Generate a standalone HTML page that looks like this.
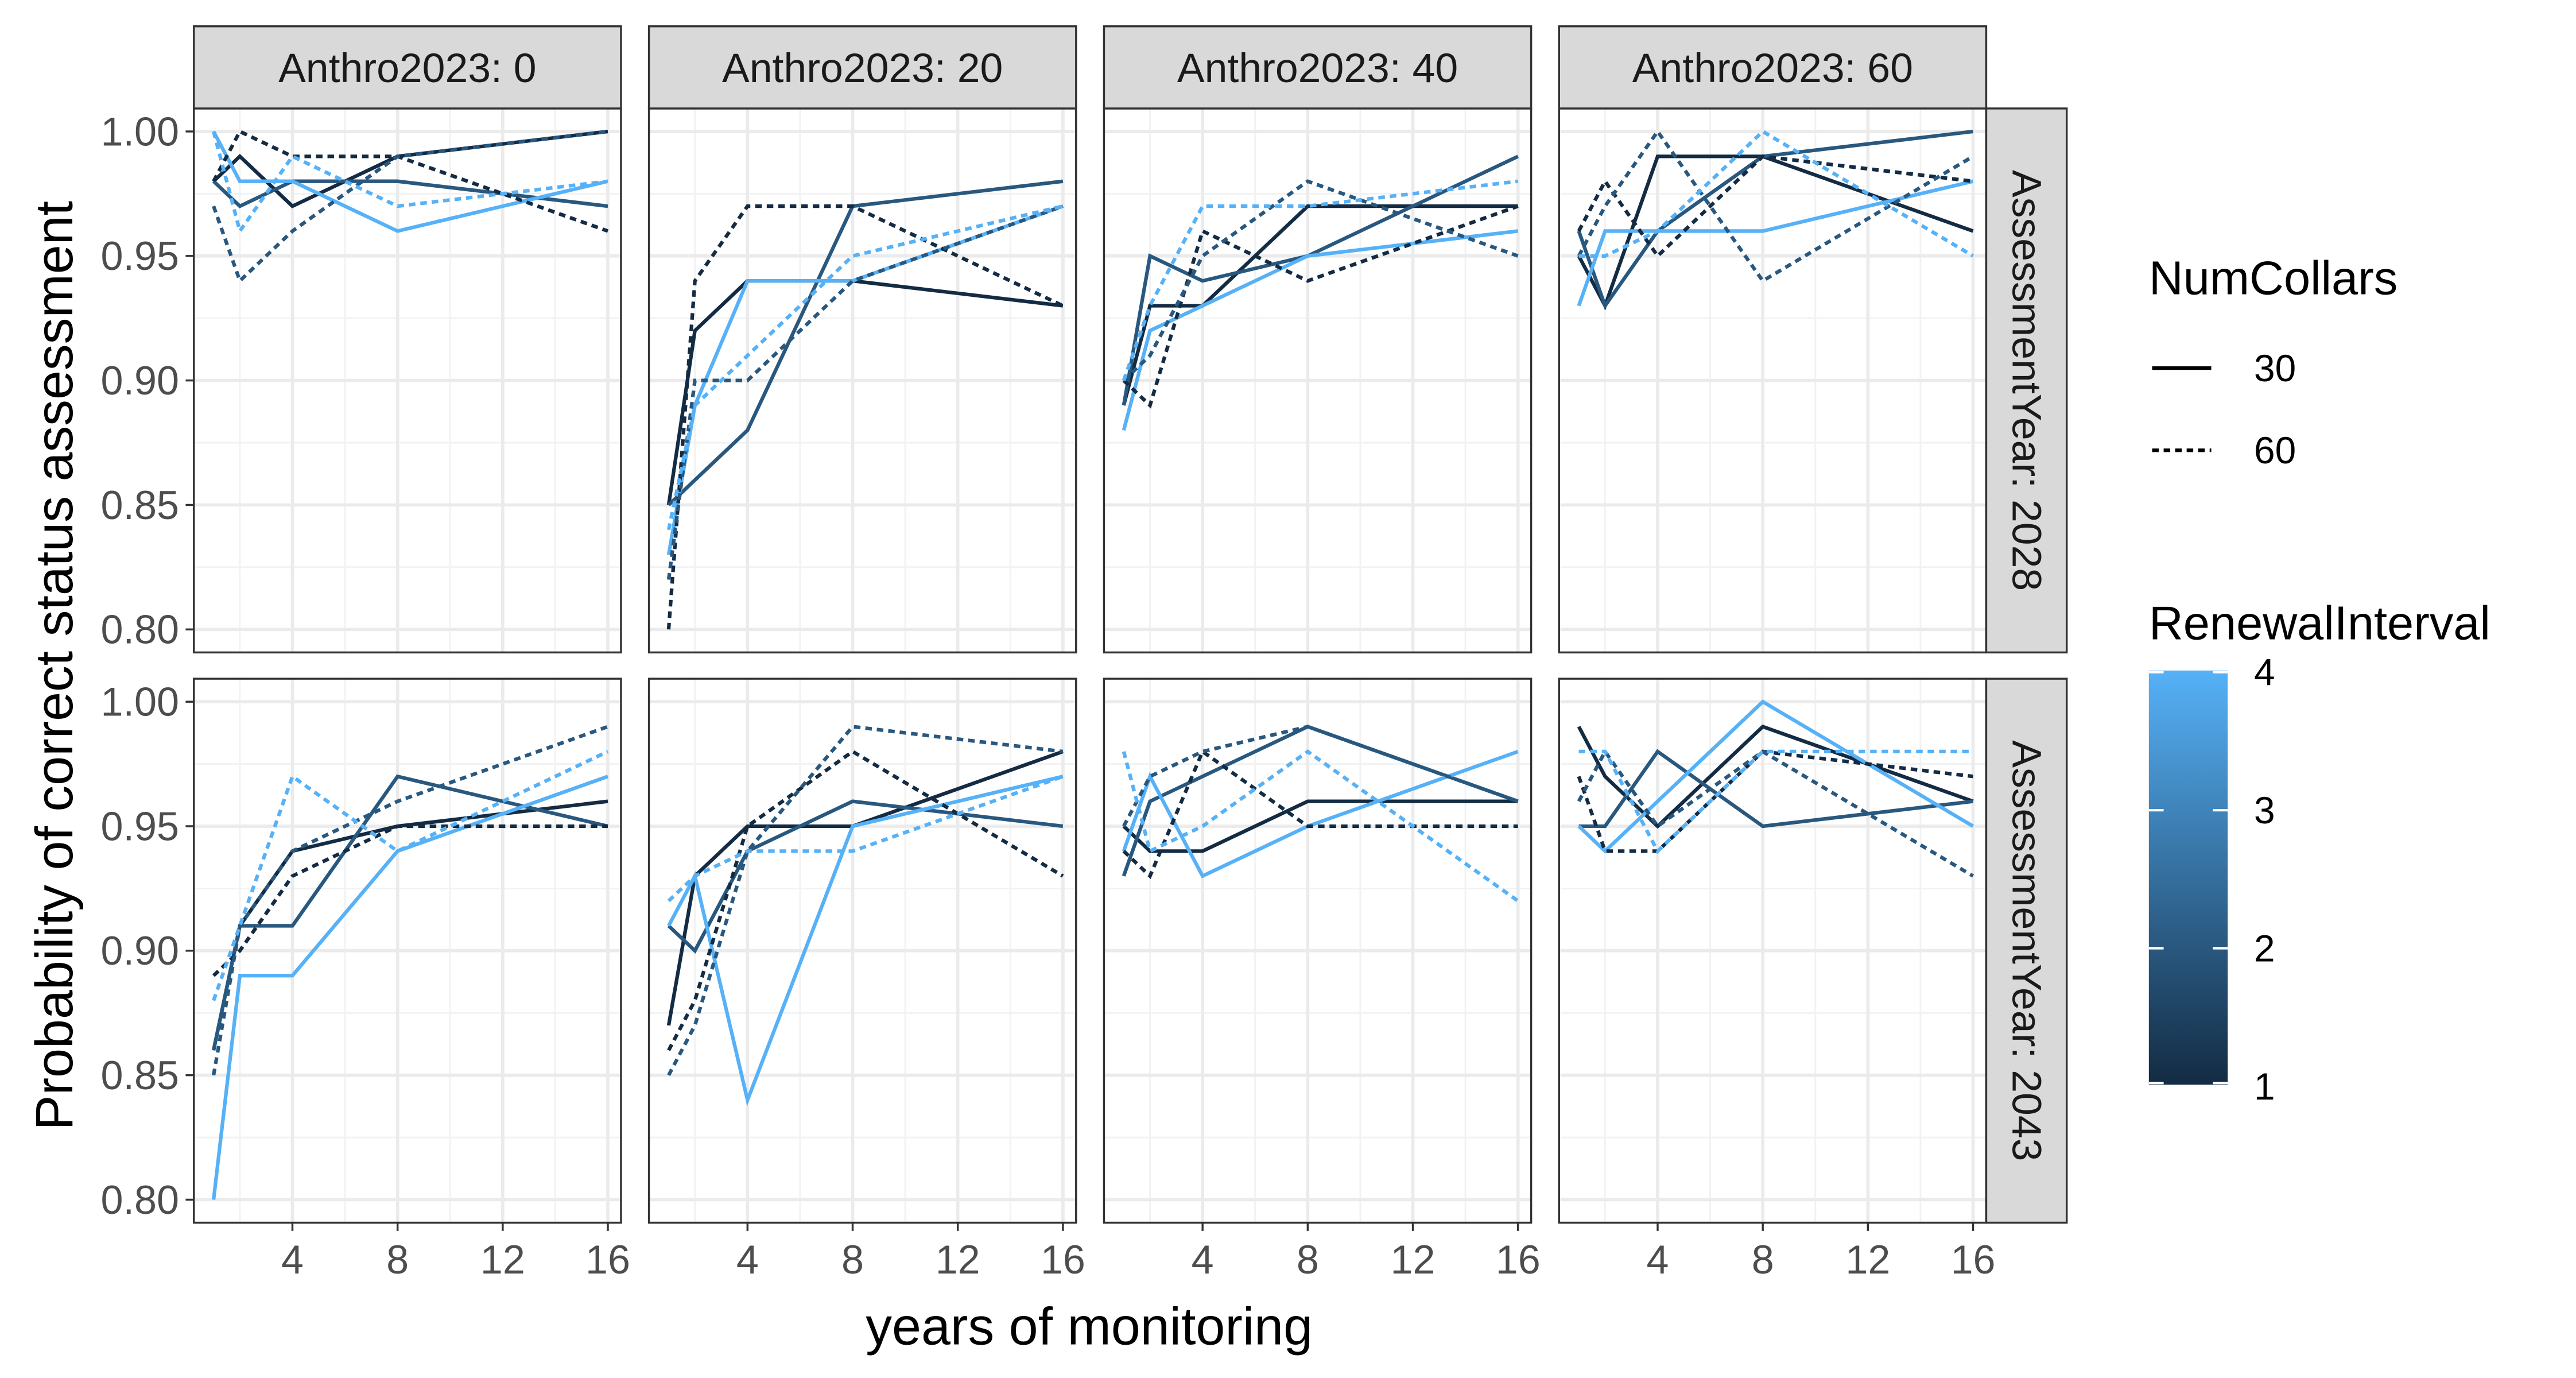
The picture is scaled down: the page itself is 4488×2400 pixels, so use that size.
<!DOCTYPE html>
<html><head><meta charset="utf-8"><style>
html,body{margin:0;padding:0;background:#fff}
svg{display:block;font-family:"Liberation Sans",sans-serif}
</style></head><body>
<svg id="chart" width="4488" height="2400" viewBox="0 0 1568 838.5" xmlns="http://www.w3.org/2000/svg">
<defs>
<linearGradient id="cbar" x1="0" y1="1" x2="0" y2="0">
<stop offset="0" stop-color="#132B43"/><stop offset="1" stop-color="#56B1F7"/>
</linearGradient>
</defs>
<rect width="1568" height="838.5" fill="#fff"/>
<g id="panels"></g>
<text transform="translate(44,405) rotate(-90)" text-anchor="middle" font-size="32" fill="#000">Probability of correct status assessment</text>
<text x="663" y="818" text-anchor="middle" font-size="32" fill="#000">years of monitoring</text>
<g>
<text x="1308" y="179" font-size="29">NumCollars</text>
<line x1="1310" y1="224" x2="1346" y2="224" stroke="#000" stroke-width="2.2"/>
<text x="1372" y="232" font-size="23">30</text>
<line x1="1310" y1="274" x2="1346" y2="274" stroke="#000" stroke-width="2.2" stroke-dasharray="4,3"/>
<text x="1372" y="282" font-size="23">60</text>
</g>
<g>
<text x="1308" y="389" font-size="29">RenewalInterval</text>
<rect x="1308" y="408" width="48" height="252" fill="url(#cbar)"/>
<text x="1372" y="417" font-size="23">4</text>
<text x="1372" y="501" font-size="23">3</text>
<text x="1372" y="585" font-size="23">2</text>
<text x="1372" y="669" font-size="23">1</text>
<g stroke="#fff" stroke-width="1.5">
<line x1="1308" y1="409" x2="1317" y2="409"/><line x1="1347" y1="409" x2="1356" y2="409"/>
<line x1="1308" y1="493" x2="1317" y2="493"/><line x1="1347" y1="493" x2="1356" y2="493"/>
<line x1="1308" y1="577" x2="1317" y2="577"/><line x1="1347" y1="577" x2="1356" y2="577"/>
<line x1="1308" y1="659" x2="1317" y2="659"/><line x1="1347" y1="659" x2="1356" y2="659"/>
</g>
</g>
</svg>
<script>
const xValues = [1, 2, 4, 8, 16];
const anthroLevels = [0, 20, 40, 60];
const assessYears = [2028, 2043];
const xTicks = [4, 8, 12, 16];
const yTicks = [0.80, 0.85, 0.90, 0.95, 1.00];
const intervals = [1, 2, 4, 1, 2, 4];
const collars = [30, 30, 30, 60, 60, 60];
// series values per panel [row][col]: order dark/mid/light solid, dark/mid/light dashed
const r1c1 = [[0.98,0.99,0.97,0.99,1.00],[0.98,0.97,0.98,0.98,0.97],[1.00,0.98,0.98,0.96,0.98],[0.98,1.00,0.99,0.99,0.96],[0.97,0.94,0.96,0.99,1.00],[1.00,0.96,0.99,0.97,0.98]];
const r1c2 = [[0.85,0.92,0.94,0.94,0.93],[0.85,0.86,0.88,0.97,0.98],[0.83,0.89,0.94,0.94,0.97],[0.80,0.94,0.97,0.97,0.93],[0.82,0.90,0.90,0.94,0.97],[0.84,0.89,0.91,0.95,0.97]];
const r1c3 = [[0.89,0.93,0.93,0.97,0.97],[0.89,0.95,0.94,0.95,0.99],[0.88,0.92,0.93,0.95,0.96],[0.90,0.89,0.96,0.94,0.97],[0.90,0.91,0.95,0.98,0.95],[0.90,0.93,0.97,0.97,0.98]];
const r1c4 = [[0.95,0.93,0.99,0.99,0.96],[0.96,0.93,0.96,0.99,1.00],[0.93,0.96,0.96,0.96,0.98],[0.96,0.98,0.95,0.99,0.98],[0.95,0.97,1.00,0.94,0.99],[0.95,0.95,0.96,1.00,0.95]];
const r2c1 = [[0.86,0.91,0.94,0.95,0.96],[0.86,0.91,0.91,0.97,0.95],[0.80,0.89,0.89,0.94,0.97],[0.89,0.90,0.93,0.95,0.95],[0.85,0.91,0.94,0.96,0.99],[0.88,0.91,0.97,0.94,0.98]];
const r2c2 = [[0.87,0.93,0.95,0.95,0.98],[0.91,0.90,0.94,0.96,0.95],[0.91,0.93,0.84,0.95,0.97],[0.86,0.88,0.95,0.98,0.93],[0.85,0.87,0.94,0.99,0.98],[0.92,0.93,0.94,0.94,0.97]];
const r2c3 = [[0.95,0.94,0.94,0.96,0.96],[0.93,0.96,0.97,0.99,0.96],[0.94,0.97,0.93,0.95,0.98],[0.94,0.93,0.98,0.95,0.95],[0.95,0.97,0.98,0.99,0.96],[0.98,0.94,0.95,0.98,0.92]];
const r2c4 = [[0.99,0.97,0.95,0.99,0.96],[0.95,0.95,0.98,0.95,0.96],[0.95,0.94,0.96,1.00,0.95],[0.97,0.94,0.94,0.98,0.97],[0.96,0.98,0.95,0.98,0.93],[0.98,0.98,0.94,0.98,0.98]];
const panelData = [[r1c1, r1c2, r1c3, r1c4], [r2c1, r2c2, r2c3, r2c4]];

const NS = "http://www.w3.org/2000/svg";
const root = document.getElementById('panels');
const colLeft = [118, 395, 672, 949], pw = 260;
const rowTop = [66, 413], ph = 331;
function mk(tag, attrs, parent){const e=document.createElementNS(NS,tag);for(const k in attrs)e.setAttribute(k,attrs[k]);parent.appendChild(e);return e;}
function colorFor(v){const t=(v-1)/3;const a=[0x13,0x2B,0x43],b=[0x56,0xB1,0xF7];return 'rgb('+a.map((c,i)=>Math.round(c+(b[i]-c)*t)).join(',')+')';}

for(let r=0;r<2;r++){
  const top=rowTop[r];
  const sy=v=>top+14+(1.00-v)/0.20*303;
  for(let c=0;c<4;c++){
    const left=colLeft[c];
    const sx=v=>left+12+(v-1)*16;
    const g=mk('g',{},root);
    
    
    mk('rect',{x:left,y:top,width:pw,height:ph,fill:'#fff'},g);
    [2,6,10,14].forEach(v=>mk('line',{x1:sx(v),x2:sx(v),y1:top,y2:top+ph,stroke:'#F2F2F2','stroke-width':1},g));
    [0.825,0.875,0.925,0.975].forEach(v=>mk('line',{x1:left,x2:left+pw,y1:sy(v),y2:sy(v),stroke:'#F2F2F2','stroke-width':1},g));
    xTicks.forEach(v=>mk('line',{x1:sx(v),x2:sx(v),y1:top,y2:top+ph,stroke:'#EBEBEB','stroke-width':2},g));
    yTicks.forEach(v=>mk('line',{x1:left,x2:left+pw,y1:sy(v),y2:sy(v),stroke:'#EBEBEB','stroke-width':2},g));
    const data=panelData[r][c];
    data.forEach((vals,i)=>{
      const p=mk('polyline',{points:vals.map((v,j)=>sx(xValues[j])+','+sy(v)).join(' '),fill:'none',stroke:colorFor(intervals[i]),'stroke-width':2.2},g);
      if(collars[i]===60)p.setAttribute('stroke-dasharray','4,3');
      
      
    });
    mk('rect',{x:left,y:top,width:pw,height:ph,fill:'none',stroke:'#333','stroke-width':1.2},g);
    if(r===0){
      const s=mk('g',{},root);
      
      
      mk('rect',{x:left,y:16,width:pw,height:50,fill:'#D9D9D9',stroke:'#333','stroke-width':1.2},s);
      const t=mk('text',{x:left+pw/2,y:50,'text-anchor':'middle','font-size':25,fill:'#1A1A1A'},s);
      t.textContent='Anthro2023: '+anthroLevels[c];
    }
    if(r===1){
      xTicks.forEach(v=>{
        mk('line',{x1:sx(v),x2:sx(v),y1:top+ph,y2:top+ph+5,stroke:'#333','stroke-width':1.2},g);
        const t=mk('text',{x:sx(v),y:top+ph+31,'text-anchor':'middle','font-size':24.5,fill:'#4D4D4D'},g);
        t.textContent=v;
      });
    }
    if(c===0){
      yTicks.forEach(v=>{
        mk('line',{x1:left-5,x2:left,y1:sy(v),y2:sy(v),stroke:'#333','stroke-width':1.2},g);
        const t=mk('text',{x:left-9,y:sy(v)+8.5,'text-anchor':'end','font-size':24.5,fill:'#4D4D4D'},g);
        t.textContent=v.toFixed(2);
      });
    }
  }
  const rs=mk('g',{},root);
  
  
  mk('rect',{x:1209,y:top,width:49,height:ph,fill:'#D9D9D9',stroke:'#333','stroke-width':1.2},rs);
  const t=mk('text',{transform:'translate(1225,'+(top+ph/2)+') rotate(90)','text-anchor':'middle','font-size':25,fill:'#1A1A1A'},rs);
  t.textContent='AssessmentYear: '+assessYears[r];
}
</script>
</body></html>
